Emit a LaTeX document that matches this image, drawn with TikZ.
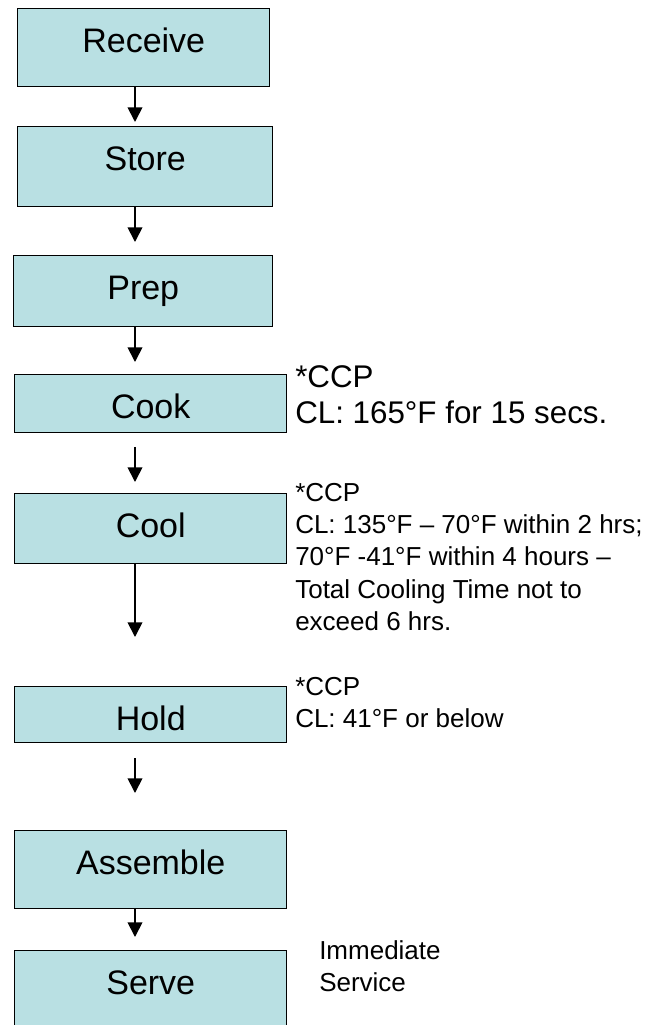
\documentclass[tikz,border=0pt]{standalone}
\usepackage{fontspec}
\setmainfont{Liberation Sans}
\usetikzlibrary{arrows.meta}
\definecolor{stagefill}{RGB}{185,224,227}
\tikzset{
  stage/.style={draw, line width=1.1pt, fill=stagefill, anchor=north west,
    inner xsep=0pt, inner ysep=0pt, text height=32.5pt,
    font=\fontsize{25.5}{30}\selectfont},
  flow/.style={-{Triangle[width=11pt,length=11pt]}, line width=1.3pt},
  note/.style={anchor=north west, inner sep=0pt, align=left}
}

\begin{document}
\begin{tikzpicture}[x=0.75pt, y=-0.75pt]
  \path[use as bounding box] (0,0) rectangle (651,1025);
  \clip (0,0) rectangle (651,1025);

  % Process steps
  \node[stage, minimum width=189pt, text depth=26pt] (receive) at (17,8) {Receive};
  \node[stage, minimum width=191.25pt, text depth=27.5pt] (store) at (17,126) {Store};
  \node[stage, minimum width=194.25pt, text depth=20.75pt] (prep) at (13,255) {Prep};
  \node[stage, minimum width=204pt, text depth=11pt] (cook) at (14,374) {Cook};
  \node[stage, minimum width=204pt, text depth=20pt] (cool) at (14,493) {Cool};
  \node[stage, minimum width=204pt, text depth=9.5pt] (hold) at (14,686) {Hold};
  \node[stage, minimum width=204pt, text depth=26pt] (assemble) at (14,830) {Assemble};
  \node[stage, minimum width=204pt, text depth=42.5pt] (serve) at (14,950) {Serve};

  % Arrow tips
  \coordinate (t1) at (135,122);
  \coordinate (t2) at (135,242);
  \coordinate (t3) at (135,362);
  \coordinate (t4) at (135,482);
  \coordinate (t5) at (135,637);
  \coordinate (t6) at (135,793);
  \coordinate (t7) at (135,937);

  \draw[flow] (receive.south -| t1) -- (t1);
  \draw[flow] (store.south -| t2) -- (t2);
  \draw[flow] (prep.south -| t3) -- (t3);
  \draw[flow, shorten <=10pt] (cook.south -| t4) -- (t4);
  \draw[flow] (cool.south -| t5) -- (t5);
  \draw[flow, shorten <=11pt] (hold.south -| t6) -- (t6);
  \draw[flow] (assemble.south -| t7) -- (t7);

  % Critical control points
  \node[note, font=\fontsize{23.5}{27}\selectfont] (cooknote) at (295,365)
    {*CCP\\CL: 165°F for 15 secs.};
  \node[note, font=\fontsize{19.5}{24.2}\selectfont] (coolnote) at (295,483)
    {*CCP\\CL: 135°F – 70°F within 2 hrs;\\70°F -41°F within 4 hours –\\Total Cooling Time not to\\exceed 6 hrs.};
  \node[note, font=\fontsize{19.5}{24}\selectfont] (holdnote) at (295,677)
    {*CCP\\CL: 41°F or below};
  \node[note, font=\fontsize{19.5}{24}\selectfont] (servenote) at (319,940)
    {Immediate\\Service};
\end{tikzpicture}
\end{document}
